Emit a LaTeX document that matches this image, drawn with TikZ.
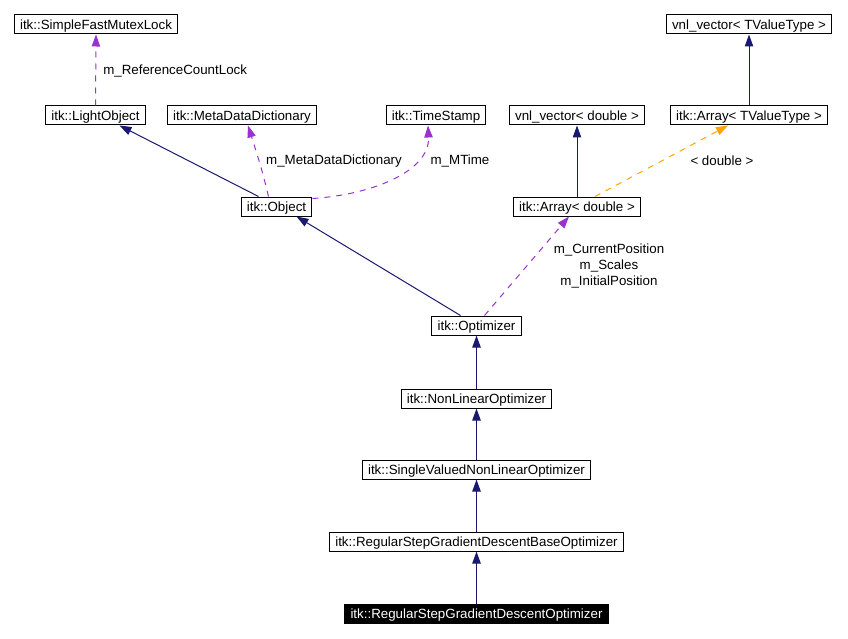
\documentclass[tikz,border=0pt]{standalone}
\usepackage{fontspec}
\setmainfont{Liberation Sans}
\usetikzlibrary{arrows.meta}
\definecolor{inhcol}{RGB}{25,25,112}
\definecolor{usecol}{RGB}{154,50,205}
\definecolor{tplcol}{RGB}{255,165,0}
\begin{document}
\begin{tikzpicture}[x=0.75pt,y=-0.75pt,
    cls/.style={draw,line width=0.75pt,inner xsep=4.3pt,inner ysep=0pt,
        text height=7.3pt,text depth=0.3pt,
        minimum height=14.25pt,font=\fontsize{10}{12}\selectfont},
    lbl/.style={font=\fontsize{10}{12}\selectfont,inner sep=0pt},
    inh/.style={draw=inhcol,line width=0.75pt,-{Triangle[length=9pt,width=6.3pt]}},
    use/.style={draw=usecol,line width=0.75pt,dash pattern=on 4.5pt off 4.5pt,
        -{Triangle[length=9pt,width=6.3pt]}},
    tpl/.style={draw=tplcol,line width=0.75pt,dash pattern=on 4.5pt off 4.5pt,
        -{Triangle[length=9pt,width=6.3pt]}}]
    \useasboundingbox (0,0) rectangle (848,638);
    \node[cls] (mutex) at (96,24.5) {itk::SimpleFastMutexLock};
    \node[cls] (light) at (95.5,115.5) {itk::LightObject};
    \node[cls] (meta) at (242,115.5) {itk::MetaDataDictionary};
    \node[cls] (stamp) at (436,115.5) {itk::TimeStamp};
    \node[cls] (vnldbl) at (577,115.5) {vnl\_vector< double >};
    \node[cls] (arrtv) at (749,115.5) {itk::Array< TValueType >};
    \node[cls] (vnltv) at (749,24.5) {vnl\_vector< TValueType >};
    \node[cls] (object) at (276.5,206.5) {itk::Object};
    \node[cls] (arrdbl) at (577,206.5) {itk::Array< double >};
    \node[cls] (opt) at (476.5,325.5) {itk::Optimizer};
    \node[cls] (nlopt) at (476.5,398.5) {itk::NonLinearOptimizer};
    \node[cls] (svopt) at (476.5,469.5) {itk::SingleValuedNonLinearOptimizer};
    \node[cls] (baseopt) at (476.5,541.5) {itk::RegularStepGradientDescentBaseOptimizer};
    \node[cls,fill=black,text=white] (gdopt) at (476.5,613.5) {itk::RegularStepGradientDescentOptimizer};

    \foreach \a/\b in {gdopt/baseopt,baseopt/svopt,svopt/nlopt,nlopt/opt}
        \draw[inh] (\a) -- (\b);
    \draw[inh] ([shift={(-16,0)}]opt.north) -- ([shift={(20,0)}]object.south);
    \draw[inh] ([shift={(-18,0)}]object.north) -- ([shift={(24,0)}]light.south);
    \draw[inh] (arrdbl.north) -- (vnldbl.south);
    \draw[inh] (arrtv.north) -- (vnltv.south);

    \draw[use] (light.north) -- (mutex.south);
    \path (103,71) node[lbl,anchor=west] {m\_ReferenceCountLock};
    \draw[use] ([shift={(-8,0)}]object.north) .. controls (262,170) .. ([shift={(6,0)}]meta.south);
    \path (334,161) node[lbl] {m\_MetaDataDictionary};
    \draw[use] ([shift={(0,-8)}]object.east) .. controls (370,195) and (430,172) .. ([shift={(-8,0)}]stamp.south);
    \path (460,161) node[lbl] {m\_MTime};
    \draw[use] ([shift={(8,0)}]opt.north) -- ([shift={(-8,0)}]arrdbl.south);
    \path (609,266) node[lbl,align=center] {m\_CurrentPosition\\m\_Scales\\m\_InitialPosition};
    \draw[tpl] ([shift={(18,0)}]arrdbl.north) -- ([shift={(-21,0)}]arrtv.south);
    \path (722,161) node[lbl] {< double >};
\end{tikzpicture}
\end{document}
